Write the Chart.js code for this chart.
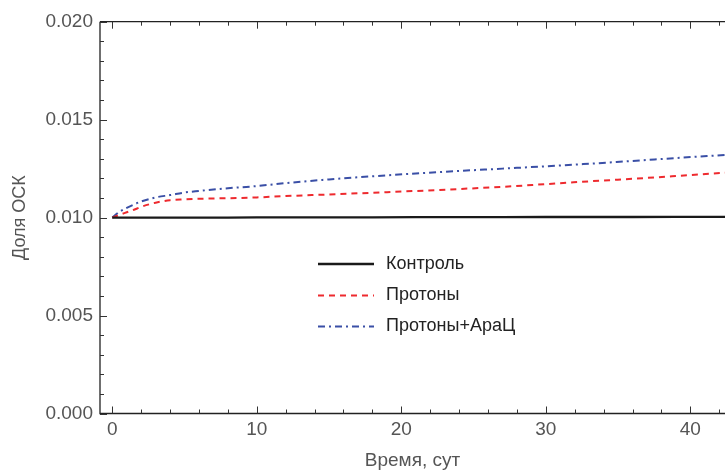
<!DOCTYPE html>
<html>
<head>
<meta charset="utf-8">
<script src="https://cdn.jsdelivr.net/npm/chart.js@4"></script>
<style>
html,body{margin:0;padding:0;background:#fff;}
#wrap{width:725px;height:473px;position:relative;}
</style>
</head>
<body>
<div id="wrap"><canvas id="c" width="725" height="473"></canvas></div>
<script>
// ---- data ----
const days = [0, 0.5, 1, 1.5, 2, 3, 4, 5, 6, 8, 10, 12, 15, 18, 21, 24, 27, 30, 33, 36, 39, 42.4];
const control = [0.01000, 0.01000, 0.01000, 0.01000, 0.01000, 0.01000, 0.01000, 0.01000, 0.01000, 0.01000, 0.01001, 0.01001, 0.01001, 0.01001, 0.01002, 0.01002, 0.01002, 0.01003, 0.01003, 0.01003, 0.01004, 0.01004];
const protons = [0.01000, 0.01014, 0.01027, 0.01040, 0.01055, 0.01076, 0.01089, 0.01093, 0.01096, 0.01099, 0.01103, 0.01110, 0.01118, 0.01127, 0.01136, 0.01146, 0.01157, 0.01171, 0.01185, 0.01198, 0.01212, 0.01229];
const protonsAraC = [0.01000, 0.01030, 0.01050, 0.01067, 0.01082, 0.01103, 0.01115, 0.01128, 0.01136, 0.01150, 0.01161, 0.01176, 0.01195, 0.01211, 0.01225, 0.01238, 0.01250, 0.01262, 0.01275, 0.01289, 0.01304, 0.01320];
const seriesNames = ['Контроль', 'Протоны', 'Протоны+АраЦ'];
const xMajorTicks = [0, 10, 20, 30, 40];
const xMinorTicks = [2, 4, 6, 8, 12, 14, 16, 18, 22, 24, 26, 28, 32, 34, 36, 38, 42];
const yMajorTicks = [0, 0.005, 0.010, 0.015, 0.020];
const yMinorTicks = [0.001, 0.002, 0.003, 0.004, 0.006, 0.007, 0.008, 0.009, 0.011, 0.012, 0.013, 0.014, 0.016, 0.017, 0.018, 0.019];
const xTitle = 'Время, сут';
const yTitle = 'Доля ОСК';

const toPts = arr => days.map((d, i) => ({x: d, y: arr[i]}));

const frameTicks = {
  id: 'frameTicks',
  afterDatasetsDraw(chart) {
    const ctx = chart.ctx, a = chart.chartArea;
    const xs = chart.scales.x, ys = chart.scales.y;
    ctx.save();
    ctx.strokeStyle = '#222';
    ctx.lineWidth = 1.3;
    ctx.beginPath();
    ctx.moveTo(a.left, a.top); ctx.lineTo(a.left, a.bottom); ctx.lineTo(a.right, a.bottom);
    ctx.moveTo(a.left, a.top); ctx.lineTo(a.right, a.top);
    ctx.stroke();
    ctx.lineWidth = 1;
    ctx.strokeStyle = '#333';
    ctx.beginPath();
    const xt = (v, len) => {
      const p = Math.round(xs.getPixelForValue(v)) + 0.5;
      if (p < a.left || p > a.right) return;
      ctx.moveTo(p, a.bottom); ctx.lineTo(p, a.bottom - len);
      ctx.moveTo(p, a.top); ctx.lineTo(p, a.top + len);
    };
    const yt = (v, len) => {
      const p = Math.round(ys.getPixelForValue(v)) + 0.5;
      ctx.moveTo(a.left, p); ctx.lineTo(a.left + len, p);
    };
    xMajorTicks.forEach(v => xt(v, 7));
    xMinorTicks.forEach(v => xt(v, 4));
    yMajorTicks.forEach(v => yt(v, 7));
    yMinorTicks.forEach(v => yt(v, 4));
    ctx.stroke();
    ctx.restore();
  },
  afterDraw(chart) {
    // legend inside plot
    const ctx = chart.ctx;
    const rows = [264, 295.5, 326.5];
    ctx.save();
    chart.data.datasets.forEach((ds, i) => {
      const y = rows[i];
      ctx.strokeStyle = ds.borderColor;
      ctx.lineWidth = ds.borderWidth;
      ctx.setLineDash(ds.borderDash || []);
      ctx.beginPath();
      ctx.moveTo(318, y); ctx.lineTo(374, y);
      ctx.stroke();
      ctx.setLineDash([]);
      ctx.fillStyle = '#222';
      ctx.font = '18px "Liberation Sans", Arial, sans-serif';
      ctx.textBaseline = 'middle';
      ctx.textAlign = 'left';
      ctx.fillText(ds.label, 386, y);
    });
    ctx.restore();
  }
};

new Chart(document.getElementById('c'), {
  type: 'line',
  data: {
    datasets: [
      {label: seriesNames[0], data: toPts(control), borderColor: '#1a1a1a', borderWidth: 2.3, pointRadius: 0, tension: 0, fill: false},
      {label: seriesNames[1], data: toPts(protons), borderColor: '#ee2a2e', borderWidth: 2, borderDash: [6, 5], pointRadius: 0, cubicInterpolationMode: 'monotone', fill: false},
      {label: seriesNames[2], data: toPts(protonsAraC), borderColor: '#3a4fa6', borderWidth: 2, borderDash: [7, 4, 2, 4], pointRadius: 0, cubicInterpolationMode: 'monotone', fill: false}
    ]
  },
  options: {
    responsive: false,
    animation: false,
    devicePixelRatio: 1,
    layout: {padding: {top: 21.7, right: 0, left: 0, bottom: 0}},
    plugins: {legend: {display: false}, tooltip: {enabled: false}},
    scales: {
      x: {
        type: 'linear',
        min: -0.85,
        max: 42.4,
        afterBuildTicks: s => { s.ticks = xMajorTicks.map(v => ({value: v})); },
        afterFit: s => { s.height = 59.5; },
        grid: {display: false, drawTicks: false, tickLength: 0},
        border: {display: false},
        ticks: {
          color: '#555',
          padding: 5,
          maxRotation: 0,
          autoSkip: false,
          font: {family: '"Liberation Sans", Arial, sans-serif', size: 19},
          callback: v => String(v)
        },
        title: {
          display: true,
          text: xTitle,
          color: '#555',
          padding: {top: 0, bottom: 1},
          font: {family: '"Liberation Sans", Arial, sans-serif', size: 19}
        }
      },
      y: {
        type: 'linear',
        min: 0,
        max: 0.020,
        afterBuildTicks: s => { s.ticks = yMajorTicks.map(v => ({value: v})); },
        afterFit: s => { s.width = 100; },
        grid: {display: false, drawTicks: false, tickLength: 0},
        border: {display: false},
        ticks: {
          color: '#555',
          padding: 7,
          autoSkip: false,
          font: {family: '"Liberation Sans", Arial, sans-serif', size: 19},
          callback: v => Number(v).toFixed(3)
        },
        title: {
          display: true,
          text: yTitle,
          color: '#555',
          padding: {top: 9, bottom: 0},
          font: {family: '"Liberation Sans", Arial, sans-serif', size: 18}
        }
      }
    }
  },
  plugins: [frameTicks]
});
</script>
</body>
</html>
